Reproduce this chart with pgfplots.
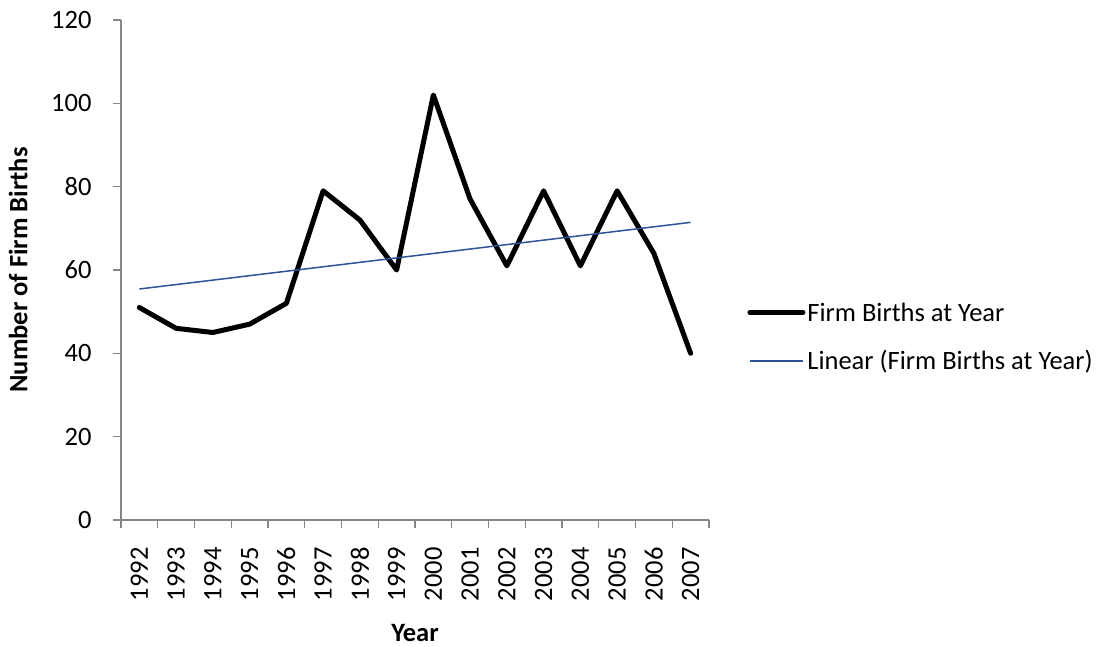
\documentclass[border=0pt]{standalone}
\usepackage{pgfplots}
\pgfplotsset{compat=1.18}
\usepackage{fontspec}
\setmainfont{Carlito}
\definecolor{axgray}{RGB}{134,134,134}
\definecolor{trendblue}{RGB}{44,84,150}
\begin{document}
\begin{tikzpicture}
\begin{axis}[
  name=ax,
  scale only axis,
  width=588bp, height=500bp,
  xmin=-0.5, xmax=15.5,
  ymin=0, ymax=120,
  ytick={0,20,...,120},
  xtick={0,...,15},
  xticklabels={1992,1993,1994,1995,1996,1997,1998,1999,2000,2001,2002,2003,2004,2005,2006,2007},
  minor xtick={-0.5,0.5,...,15.5},
  axis lines*=left,
  axis line style={axgray, line width=1.2bp, -},
  x axis line style={-}, y axis line style={-},
  major x tick style={draw=none},
  minor x tick style={axgray, line width=1.2bp},
  major y tick style={axgray, line width=1.2bp},
  tick align=outside,
  major tick length=8bp, minor tick length=8bp,
  tick label style={font=\fontsize{26.5bp}{30bp}\selectfont},
  /pgf/number format/assume math mode=true,
  xticklabel style={rotate=90, anchor=east, xshift=-16bp},
  yticklabel style={xshift=-18bp},
  xlabel={\textbf{Year}},
  ylabel={\textbf{Number of Firm Births}},
  label style={font=\fontsize{26.5bp}{30bp}\selectfont},
  xlabel style={at={(axis description cs:0.5,-0.226)}, anchor=center},
  ylabel style={at={(axis description cs:-0.175,0.5)}, anchor=center},
  legend style={draw=none, fill=none, at={(axis description cs:1.065,0.366)}, anchor=west,
    inner sep=0pt, font=\fontsize{26.5bp}{30bp}\selectfont, row sep=24bp,
    /tikz/every odd column/.append style={column sep=0bp}},
  legend cell align=left,
  legend image code/.code={\draw[#1] (0bp,0bp) -- (53bp,0bp);},
  clip=false,
]
\addplot[black, line width=5bp, line join=round, line cap=round] coordinates {
(0,51) (1,46) (2,45) (3,47) (4,52) (5,79) (6,72) (7,60) (8,102) (9,77) (10,61) (11,79) (12,61) (13,79) (14,64) (15,40)
};
\addlegendentry{Firm Births at Year}
\addplot[trendblue, line width=1.5bp] coordinates {(0,55.44) (15,71.43)};
\addlegendentry{Linear (Firm Births at Year)}
\end{axis}
\pgfresetboundingbox
\path ([shift={(-121bp,-127bp)}]ax.south west) rectangle ([shift={(393bp,20bp)}]ax.north east);
\end{tikzpicture}
\end{document}
